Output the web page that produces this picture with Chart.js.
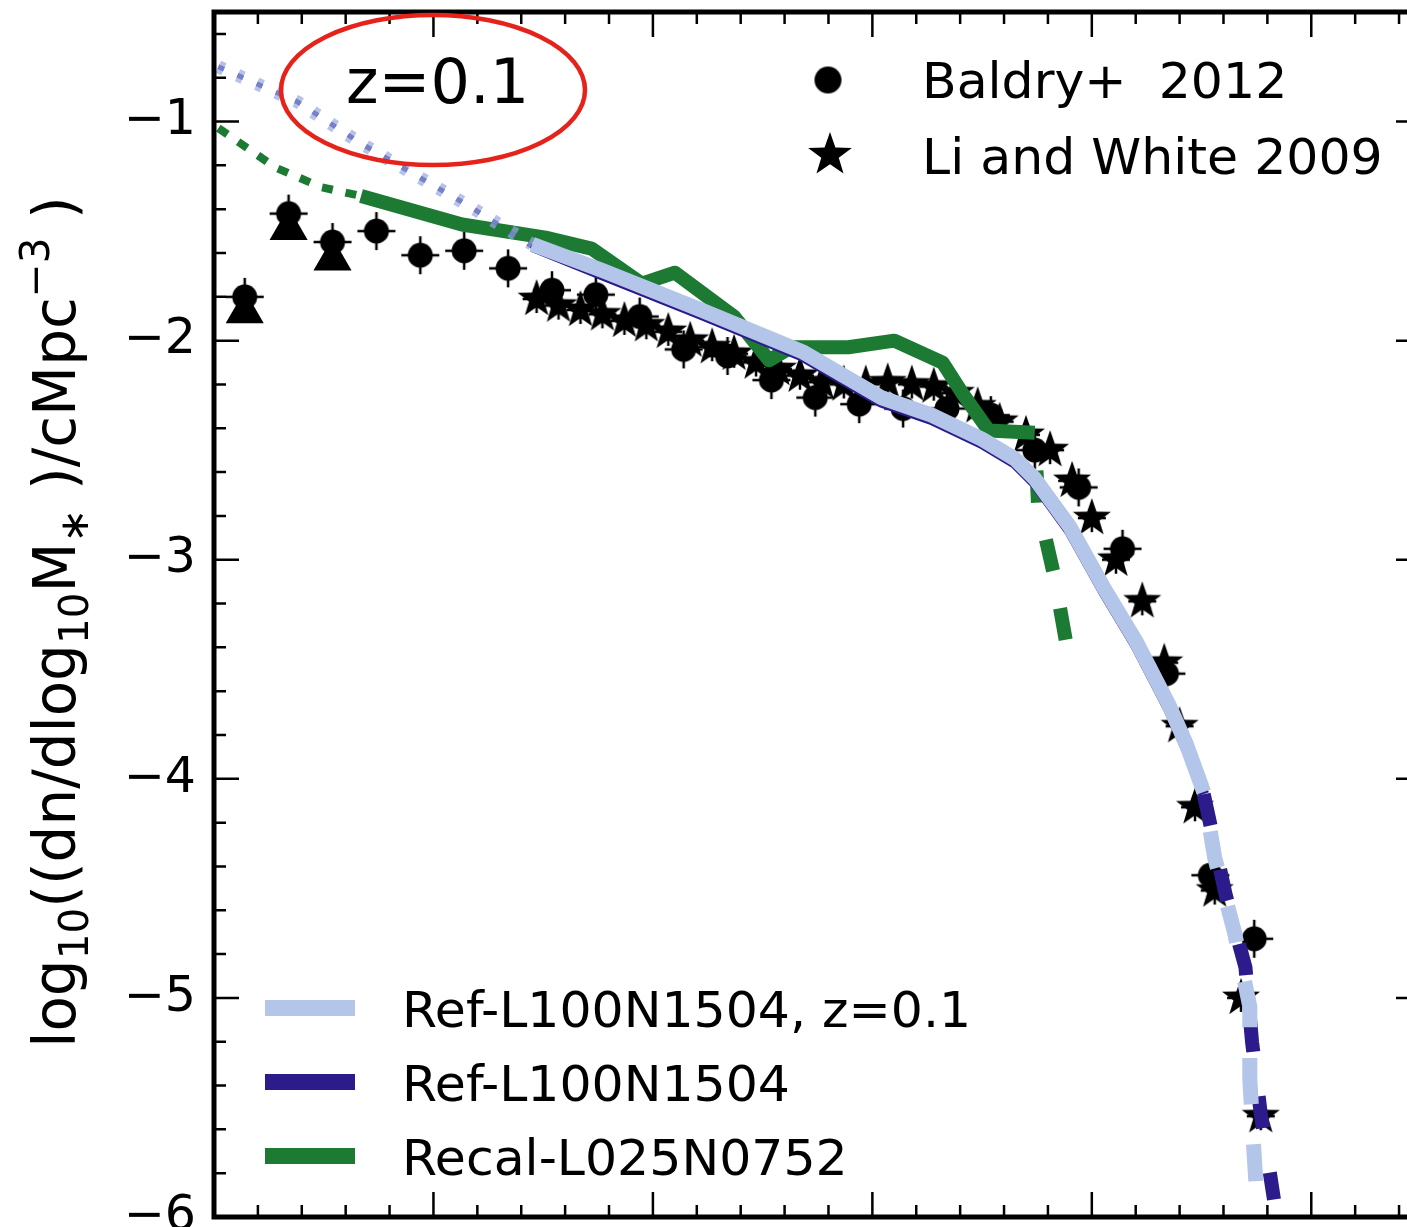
<!DOCTYPE html>
<html>
<head>
<meta charset="utf-8">
<script src="https://cdn.jsdelivr.net/npm/chart.js@4.4.1/dist/chart.umd.min.js"></script>
<style>
  html, body { margin: 0; padding: 0; overflow: hidden; background: #fff; }
  canvas { display: block; }
</style>
</head>
<body>
<canvas id="smf" width="1440" height="1320"></canvas>
<script>
// --- data (log10 M*, log10 phi) ---
const refZ01Mass = [7.02, 7.38, 7.67, 8.17, 8.45, 8.77, 9.22, 9.68, 10.04, 10.27, 10.50, 10.65, 10.74, 10.90, 11.05, 11.20, 11.35, 11.43, 11.51, 11.56, 11.65, 11.72, 11.72, 11.74, 11.75];
const refZ01Phi  = [-0.75, -0.91, -1.10, -1.39, -1.56, -1.68, -1.86, -2.05, -2.26, -2.34, -2.45, -2.54, -2.63, -2.85, -3.12, -3.37, -3.66, -3.84, -4.06, -4.36, -4.70, -5.04, -5.37, -5.72, -5.88];

const refMass = [7.02, 7.38, 7.67, 8.17, 8.45, 8.77, 9.22, 9.68, 10.04, 10.27, 10.50, 10.65, 10.74, 10.90, 11.05, 11.20, 11.35, 11.43, 11.51, 11.61, 11.70, 11.73, 11.77, 11.83];
const refPhi  = [-0.75, -0.91, -1.10, -1.39, -1.57, -1.70, -1.88, -2.07, -2.28, -2.36, -2.47, -2.56, -2.65, -2.87, -3.14, -3.39, -3.68, -3.86, -4.07, -4.53, -4.86, -5.20, -5.53, -5.92];

const recalMass = [7.02, 7.28, 7.49, 7.67, 8.13, 8.51, 8.72, 8.95, 9.10, 9.37, 9.53, 9.63, 9.89, 10.10, 10.32, 10.41, 10.53, 10.74, 10.755, 10.83, 10.905];
const recalPhi  = [-1.03, -1.21, -1.30, -1.34, -1.47, -1.53, -1.58, -1.74, -1.69, -1.89, -2.09, -2.03, -2.03, -2.00, -2.10, -2.24, -2.41, -2.42, -2.75, -3.08, -3.50];

const baldryMass = [7.14, 7.34, 7.54, 7.74, 7.94, 8.14, 8.34, 8.54, 8.74, 8.94, 9.14, 9.34, 9.54, 9.74, 9.94, 10.14, 10.34, 10.54, 10.74, 10.94, 11.14, 11.34, 11.54, 11.74];
const baldryPhi  = [-1.80, -1.42, -1.55, -1.50, -1.61, -1.59, -1.67, -1.77, -1.79, -1.89, -2.04, -2.07, -2.18, -2.26, -2.29, -2.31, -2.31, -2.34, -2.50, -2.67, -2.95, -3.52, -4.44, -4.73];
const baldryLowMass = [7.14, 7.34, 7.54];
const baldryLowPhi  = [-1.87, -1.49, -1.63];

const liWhiteMass = [8.47, 8.57, 8.67, 8.77, 8.87, 8.97, 9.07, 9.17, 9.27, 9.37, 9.47, 9.57, 9.67, 9.77, 9.87, 9.97, 10.07, 10.18, 10.28, 10.38, 10.48, 10.58, 10.70, 10.81, 10.91, 11.00, 11.11, 11.23, 11.33, 11.40, 11.47, 11.56, 11.68, 11.77];
const liWhitePhi  = [-1.81, -1.84, -1.86, -1.88, -1.91, -1.93, -1.96, -2.00, -2.03, -2.06, -2.10, -2.13, -2.16, -2.19, -2.20, -2.20, -2.19, -2.20, -2.21, -2.24, -2.30, -2.37, -2.43, -2.50, -2.64, -2.81, -3.00, -3.19, -3.47, -3.76, -4.13, -4.51, -5.00, -5.54];

// where each simulation curve goes from dotted -> solid -> dashed
const refZ01Solid = [8.45, 11.51];
const refSolid = [8.45, 11.51];
const recalSolid = [7.67, 10.74];

const xMajorTicks = [7, 8, 9, 10, 11, 12];
const yMajorTicks = [-6, -5, -4, -3, -2, -1];
const minorStep = 0.2;

const FONT = "'DejaVu Sans', sans-serif";
const LIGHT = '#b3c5e8';
const DARK = '#2c1b8a';
const GREEN = '#1c7a33';

function pts(xs, ys) { return xs.map((x, i) => ({ x: x, y: ys[i] })); }

function marker(kind, r, spike) {
  const size = Math.ceil(2 * Math.max(r, spike || 0) + 4);
  const c = document.createElement('canvas');
  c.width = c.height = size;
  const g = c.getContext('2d');
  const m = size / 2;
  g.fillStyle = '#000';
  g.strokeStyle = '#000';
  g.lineWidth = 2.5;
  if (spike) {
    g.beginPath();
    g.moveTo(m - spike, m); g.lineTo(m + spike, m);
    g.moveTo(m, m - spike); g.lineTo(m, m + spike);
    g.stroke();
  }
  g.beginPath();
  if (kind === 'circle') {
    g.arc(m, m, r, 0, 2 * Math.PI);
  } else {
    for (let i = 0; i < 10; i++) {
      const a = -Math.PI / 2 + i * Math.PI / 5;
      const rr = i % 2 ? r * 0.4 : r;
      g.lineTo(m + rr * Math.cos(a), m + rr * Math.sin(a));
    }
    g.closePath();
  }
  g.fill();
  return c;
}

const circleMark = marker('circle', 12.5, 19);
const starMark = marker('star', 20, 14);
const circleLegend = marker('circle', 13.5, 0);
const starLegend = marker('star', 23, 0);

// segment styling: dotted below resolution, solid, dashed where bins are sparse
function segStyle(range, dotted, solid, dashed) {
  return function (ctx) {
    if (ctx.p1.parsed.x <= range[0] + 1e-9) return dotted;
    if (ctx.p0.parsed.x >= range[1] - 1e-9) return dashed;
    return solid;
  };
}
function seg(range, d, s, k, key) {
  return segStyle(range, d[key], s[key], k[key]);
}

const lightDot = { w: 13, dash: [6, 15], off: 0, col: 'rgba(150,170,225,0.7)' };
const lightSol = { w: 15, dash: [], off: 0, col: LIGHT };
const lightDsh = { w: 15, dash: [37, 40], off: 37, col: LIGHT };
const darkDot = { w: 5, dash: [6, 15], off: 0, col: DARK };
const darkSol = { w: 11, dash: [], off: 0, col: DARK };
const darkDsh = { w: 14, dash: [32, 45], off: 0, col: DARK };
const greenDot = { w: 8, dash: [11, 13], off: 0, col: GREEN };
const greenSol = { w: 14, dash: [], off: 0, col: GREEN };
const greenDsh = { w: 14, dash: [32, 38], off: 32, col: GREEN };

function lineSet(label, data, range, d, s, k, order) {
  return {
    label: label, data: data, showLine: true, pointRadius: 0, order: order,
    borderColor: s.col, borderWidth: s.w, borderCapStyle: 'butt', borderJoinStyle: 'round',
    segment: {
      borderColor: seg(range, d, s, k, 'col'),
      borderWidth: seg(range, d, s, k, 'w'),
      borderDash: seg(range, d, s, k, 'dash'),
      borderDashOffset: seg(range, d, s, k, 'off')
    }
  };
}

const frameTicks = {
  id: 'frameTicks',
  afterDatasetsDraw(chart) {
    const { ctx, chartArea: a, scales: { x, y } } = chart;
    ctx.save();
    ctx.strokeStyle = '#000';
    ctx.lineWidth = 2.5;
    ctx.beginPath();
    const nx = Math.round((x.max - x.min) / minorStep);
    for (let i = 0; i <= nx; i++) {
      const v = x.min + i * minorStep;
      const px = x.getPixelForValue(v);
      const len = (i % 5 === 0) ? 25 : 12;
      ctx.moveTo(px, a.bottom); ctx.lineTo(px, a.bottom - len);
      ctx.moveTo(px, a.top); ctx.lineTo(px, a.top + len);
    }
    const ny = Math.floor((y.max - y.min) / minorStep + 1e-6);
    for (let i = 0; i <= ny; i++) {
      const v = y.min + i * minorStep;
      const py = y.getPixelForValue(v);
      const len = (i % 5 === 0) ? 25 : 12;
      ctx.moveTo(a.left, py); ctx.lineTo(a.left + len, py);
      ctx.moveTo(a.right, py); ctx.lineTo(a.right - len, py);
    }
    ctx.stroke();
    ctx.lineWidth = 5;
    ctx.strokeRect(a.left, a.top, a.right - a.left, a.bottom - a.top);
    ctx.restore();
  }
};

const annotations = {
  id: 'annotations',
  afterDraw(chart) {
    const ctx = chart.ctx;
    ctx.save();
    ctx.fillStyle = '#000';
    ctx.textAlign = 'left';
    ctx.textBaseline = 'alphabetic';

    // redshift label with the red ellipse
    ctx.font = '62px ' + FONT;
    ctx.fillText('z=0.1', 346, 103);
    ctx.strokeStyle = '#e6231b';
    ctx.lineWidth = 4.5;
    ctx.beginPath();
    ctx.ellipse(433, 90, 152, 75, 0, 0, 2 * Math.PI);
    ctx.stroke();

    // observational legend (top right)
    ctx.font = '50.5px ' + FONT;
    ctx.drawImage(circleLegend, 828 - circleLegend.width / 2, 80 - circleLegend.height / 2);
    ctx.fillText('Baldry+  2012', 922, 98);
    ctx.drawImage(starLegend, 830 - starLegend.width / 2, 155 - starLegend.height / 2);
    ctx.fillText('Li and White 2009', 922, 174);

    // simulation legend (bottom left)
    const rows = [
      [LIGHT, 'Ref-L100N1504, z=0.1', 1008],
      [DARK, 'Ref-L100N1504', 1082],
      [GREEN, 'Recal-L025N0752', 1156]
    ];
    rows.forEach(r => {
      ctx.fillStyle = r[0];
      ctx.fillRect(265, r[2] - 8, 90, 16);
      ctx.fillStyle = '#000';
      ctx.fillText(r[1], 402, r[2] + 19);
    });

    // y-axis title with sub/superscripts
    const size = 58;
    const parts = [['log', 0], ['10', -1], ['((dn/dlog', 0], ['10', -1], ['M', 0], ['\u2217', -1],
                   [' )/cMpc', 0], ['\u22123', 1], [' )', 0]];
    let total = 0;
    parts.forEach(p => {
      ctx.font = (p[1] ? size * 0.7 : size) + 'px ' + FONT;
      p.push(ctx.measureText(p[0]).width);
      total += p[2];
    });
    ctx.translate(75, 622);
    ctx.rotate(-Math.PI / 2);
    let cx = -total / 2;
    parts.forEach(p => {
      ctx.font = (p[1] ? size * 0.7 : size) + 'px ' + FONT;
      const dy = p[1] < 0 ? size * 0.22 : (p[1] > 0 ? -size * 0.45 : 0);
      ctx.fillText(p[0], cx, dy);
      cx += p[2];
    });
    ctx.restore();
  }
};

new Chart(document.getElementById('smf'), {
  type: 'scatter',
  data: {
    datasets: [
      lineSet('Ref-L100N1504, z=0.1', pts(refZ01Mass, refZ01Phi), refZ01Solid, lightDot, lightSol, lightDsh, 1),
      lineSet('Ref-L100N1504', pts(refMass, refPhi), refSolid, darkDot, darkSol, darkDsh, 2),
      lineSet('Recal-L025N0752', pts(recalMass, recalPhi), recalSolid, greenDot, greenSol, greenDsh, 3),
      { label: 'Li and White 2009', data: pts(liWhiteMass, liWhitePhi), pointStyle: starMark, pointRadius: 20, order: 4 },
      { label: 'Baldry+  2012', data: pts(baldryMass, baldryPhi), pointStyle: circleMark, pointRadius: 13, order: 5 },
      { label: 'Baldry+  2012 low mass', data: pts(baldryLowMass, baldryLowPhi), pointStyle: 'triangle', pointRadius: 22,
        backgroundColor: '#000', borderColor: '#000', borderWidth: 0, order: 6 }
    ]
  },
  options: {
    responsive: false,
    devicePixelRatio: 1,
    animation: false,
    layout: { autoPadding: false, padding: { left: 0, top: 12, right: 19, bottom: 0 } },
    plugins: { legend: { display: false }, tooltip: { enabled: false } },
    scales: {
      x: {
        type: 'linear', min: 7, max: 12.5,
        afterBuildTicks: s => { s.ticks = xMajorTicks.map(v => ({ value: v })); },
        afterFit: s => { s.height = 103; s.paddingLeft = 0; s.paddingRight = 0; },
        grid: { display: false, drawTicks: false },
        border: { display: false },
        ticks: { color: '#000', font: { family: FONT, size: 49 }, padding: 16, maxRotation: 0, autoSkip: false }
      },
      y: {
        type: 'linear', min: -6, max: -0.5,
        afterBuildTicks: s => { s.ticks = yMajorTicks.map(v => ({ value: v })); },
        afterFit: s => { s.width = 214; s.paddingTop = 0; s.paddingBottom = 0; },
        grid: { display: false, drawTicks: false },
        border: { display: false },
        ticks: {
          color: '#000', font: { family: FONT, size: 49 }, padding: 18, autoSkip: false,
          callback: v => (v < 0 ? '\u2212' : '') + Math.abs(v)
        }
      }
    }
  },
  plugins: [frameTicks, annotations]
});
</script>
</body>
</html>
